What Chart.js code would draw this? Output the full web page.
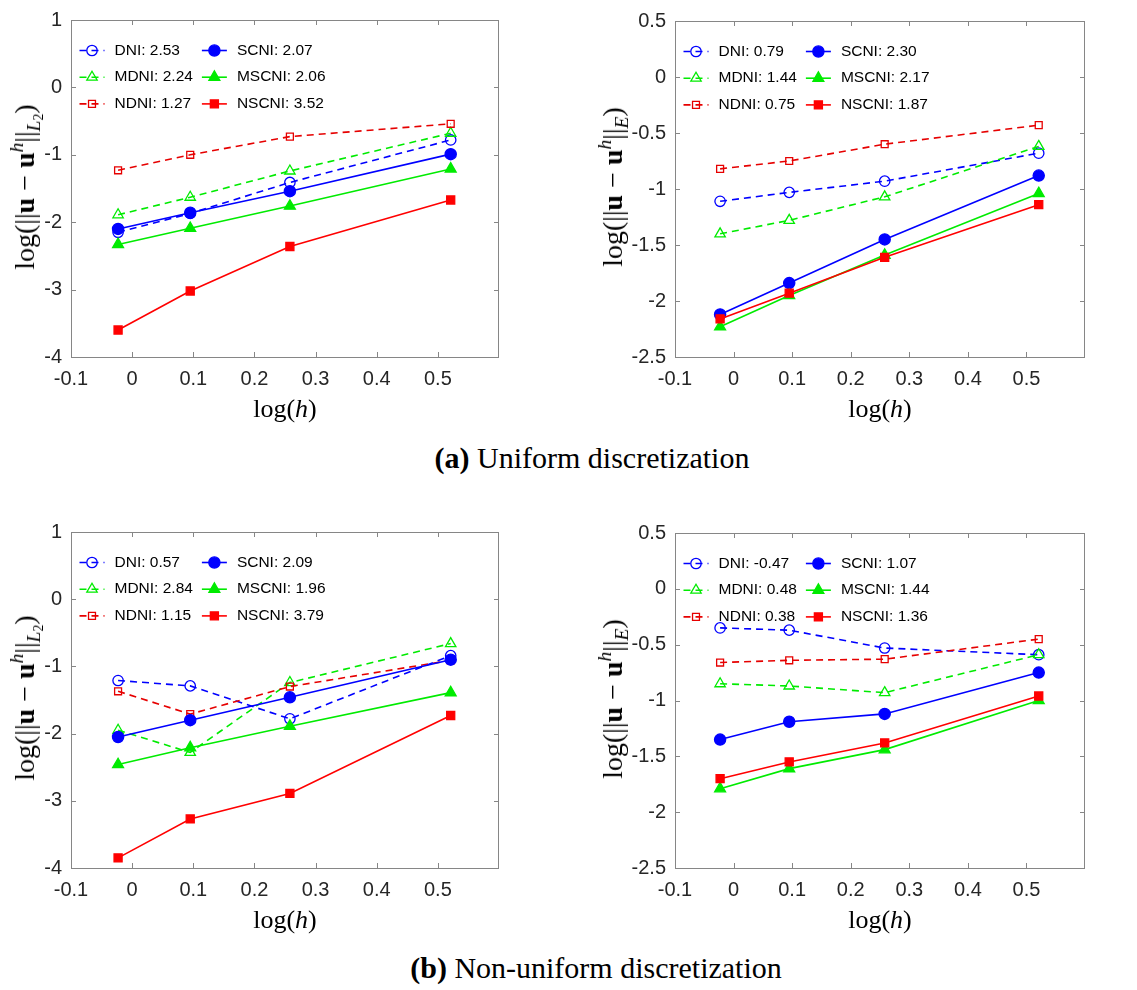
<!DOCTYPE html>
<html>
<head>
<meta charset="utf-8">
<script src="https://cdn.jsdelivr.net/npm/chart.js@4.4.1/dist/chart.umd.min.js"></script>
<style>
  body { margin: 0; background: #fff; width: 1137px; height: 990px; position: relative; overflow: hidden; }
  canvas { position: absolute; }
  .lab { position: absolute; font-family: "Liberation Serif", serif; font-size: 26px; line-height: 1; white-space: nowrap; color: #000; }
  .lab.ylab { font-size: 28px; }
  .lab sup, .lab sub { font-size: 0.7em; line-height: 0; }
  .lab sup { vertical-align: 0.55em; }
  .lab sub { vertical-align: -0.3em; }
  .lab sub sub { vertical-align: -0.2em; }
  .cap { position: absolute; font-family: "Liberation Serif", serif; font-size: 30px; line-height: 1; white-space: nowrap; color: #000; transform: translate(-50%, -50%); }
</style>
</head>
<body>
<script>
// log of mesh size, shared by every panel
const logH = [-0.023, 0.095, 0.258, 0.521];
const methods = ['DNI', 'MDNI', 'NDNI', 'SCNI', 'MSCNI', 'NSCNI'];

const xTicks = [-0.1, 0, 0.1, 0.2, 0.3, 0.4, 0.5];
const l2Ticks = [-4, -3, -2, -1, 0, 1];
const energyTicks = [-2.5, -2, -1.5, -1, -0.5, 0, 0.5];

// rows follow the order of `methods`
const uniformL2 = [
  [-2.15, -1.87, -1.41, -0.78],
  [-1.89, -1.63, -1.24, -0.68],
  [-1.23, -1.00, -0.73, -0.54],
  [-2.10, -1.86, -1.54, -0.99],
  [-2.33, -2.09, -1.76, -1.21],
  [-3.60, -3.02, -2.36, -1.67]
];
const uniformE = [
  [-1.11, -1.03, -0.93, -0.68],
  [-1.40, -1.28, -1.07, -0.62],
  [-0.82, -0.75, -0.60, -0.43],
  [-2.12, -1.84, -1.45, -0.88],
  [-2.23, -1.95, -1.59, -1.04],
  [-2.16, -1.93, -1.61, -1.14]
];
const nonUniformL2 = [
  [-1.21, -1.29, -1.78, -0.84],
  [-1.95, -2.28, -1.24, -0.66],
  [-1.37, -1.71, -1.30, -0.91],
  [-2.05, -1.80, -1.46, -0.90],
  [-2.46, -2.21, -1.89, -1.39],
  [-3.85, -3.27, -2.89, -1.73]
];
const nonUniformE = [
  [-0.35, -0.37, -0.53, -0.59],
  [-0.85, -0.87, -0.93, -0.59],
  [-0.66, -0.64, -0.63, -0.45],
  [-1.35, -1.19, -1.12, -0.75],
  [-1.79, -1.61, -1.44, -1.00],
  [-1.70, -1.55, -1.38, -0.96]
];

// convergence rates shown in the legends
const uniformL2Rates = [2.53, 2.24, 1.27, 2.07, 2.06, 3.52];
const uniformERates = [0.79, 1.44, 0.75, 2.30, 2.17, 1.87];
const nonUniformL2Rates = [0.57, 2.84, 1.15, 2.09, 1.96, 3.79];
const nonUniformERates = [-0.47, 0.48, 0.38, 1.07, 1.44, 1.36];

// line / marker style per method
const styles = [
  { color: 'rgb(0,0,255)', dash: [7, 5], point: 'circle',   r: 5.2, filled: false },
  { color: 'rgb(0,235,0)', dash: [7, 5], point: 'triangle', r: 6,   filled: false },
  { color: 'rgb(230,0,0)', dash: [7, 5], point: 'rect',     r: 4.9, filled: false },
  { color: 'rgb(0,0,255)', dash: [],     point: 'circle',   r: 5.6, filled: true },
  { color: 'rgb(0,235,0)', dash: [],     point: 'triangle', r: 6.3, filled: true },
  { color: 'rgb(255,0,0)', dash: [],     point: 'rect',     r: 5.7, filled: true }
];

const M = { left: 71, right: 24, top: 17, bottom: 42 };

// box frame with inward ticks on all four sides, plus the two-column legend
const matlabBox = {
  id: 'matlabBox',
  beforeDatasetsDraw(chart) {
    const { ctx, chartArea: a, scales: { x, y } } = chart;
    ctx.save();
    ctx.strokeStyle = '#868686';
    ctx.lineWidth = 1;
    ctx.strokeRect(a.left + 0.5, a.top + 0.5, a.right - a.left - 1, a.bottom - a.top);
    ctx.beginPath();
    x.ticks.forEach(t => {
      const px = Math.round(x.getPixelForValue(t.value)) + 0.5;
      ctx.moveTo(px, a.bottom); ctx.lineTo(px, a.bottom - 5);
      ctx.moveTo(px, a.top); ctx.lineTo(px, a.top + 5);
    });
    y.ticks.forEach(t => {
      const py = Math.round(y.getPixelForValue(t.value)) + 0.5;
      ctx.moveTo(a.left, py); ctx.lineTo(a.left + 5, py);
      ctx.moveTo(a.right, py); ctx.lineTo(a.right - 5, py);
    });
    ctx.stroke();
    ctx.restore();
  },
  afterDatasetsDraw(chart) {
    const { ctx, chartArea: a } = chart;
    const ds = chart.data.datasets;
    ctx.save();
    ctx.font = '15.5px "Liberation Sans"';
    ctx.textBaseline = 'middle';
    const x0 = a.left + 8.5, y0 = a.top + 30.5, dy = 26.7, len = 25, gap = 35;
    const w1 = Math.max(...[0, 1, 2].map(i => ctx.measureText(ds[i].label).width));
    const x1 = x0 + gap + w1 + 9;
    ds.forEach((d, i) => {
      const lx = i < 3 ? x0 : x1;
      const ly = y0 + (i % 3) * dy;
      ctx.strokeStyle = d.borderColor;
      ctx.lineWidth = d.borderWidth;
      ctx.setLineDash(d.borderDash);
      ctx.beginPath(); ctx.moveTo(lx, ly); ctx.lineTo(lx + len, ly); ctx.stroke();
      ctx.setLineDash([]);
      ctx.fillStyle = d.pointBackgroundColor;
      ctx.strokeStyle = d.pointBorderColor;
      ctx.lineWidth = d.pointBorderWidth;
      Chart.helpers.drawPoint(ctx, { pointStyle: d.pointStyle, radius: d.pointRadius, rotation: 0, borderWidth: d.pointBorderWidth }, lx + len / 2, ly);
      ctx.fillStyle = '#000';
      ctx.fillText(d.label, lx + gap, ly);
    });
    ctx.restore();
  }
};

function addLabel(html, cls, css) {
  const el = document.createElement('div');
  el.className = cls;
  el.innerHTML = html;
  el.style.cssText = css;
  document.body.appendChild(el);
}

function makePanel(p) {
  const w = p.box.r - p.box.l + M.left + M.right;
  const h = p.box.b - p.box.t + M.top + M.bottom;
  const cv = document.createElement('canvas');
  cv.width = w; cv.height = h;
  cv.style.cssText = `left:${p.box.l - M.left}px;top:${p.box.t - M.top}px;width:${w}px;height:${h}px`;
  document.body.appendChild(cv);

  const tickFont = { family: '"Liberation Sans", Arial, sans-serif', size: 20 };
  new Chart(cv, {
    type: 'scatter',
    data: {
      datasets: methods.map((name, i) => {
        const s = styles[i];
        return {
          label: name + ': ' + p.rates[i].toFixed(2),
          data: logH.map((x, j) => ({ x, y: p.values[i][j] })),
          showLine: true,
          borderColor: s.color,
          borderWidth: 1.6,
          borderDash: s.dash,
          pointStyle: s.point,
          pointRadius: s.r,
          pointBorderWidth: 1.3,
          pointBorderColor: s.color,
          pointBackgroundColor: s.filled ? s.color : 'rgba(0,0,0,0)',
          order: methods.length - i
        };
      })
    },
    options: {
      responsive: false,
      animation: false,
      devicePixelRatio: 1,
      layout: { padding: { left: 0, right: M.right, top: M.top, bottom: 0 } },
      plugins: { legend: { display: false }, tooltip: { enabled: false } },
      scales: {
        x: {
          type: 'linear', min: -0.1, max: 0.6,
          grid: { display: false, drawTicks: false },
          border: { display: false },
          afterBuildTicks: s => { s.ticks = xTicks.map(v => ({ value: v })); },
          afterFit: s => { s.height = M.bottom; },
          ticks: { color: '#262626', font: tickFont, padding: 10, maxRotation: 0, autoSkip: false, callback: v => String(v) }
        },
        y: {
          type: 'linear', min: p.yTicks[0], max: p.yTicks[p.yTicks.length - 1],
          grid: { display: false, drawTicks: false },
          border: { display: false },
          afterBuildTicks: s => { s.ticks = p.yTicks.map(v => ({ value: v })); },
          afterFit: s => { s.width = M.left; },
          ticks: { color: '#262626', font: tickFont, padding: 9, autoSkip: false, callback: v => String(v) }
        }
      }
    },
    plugins: [matlabBox]
  });

  const cx = (p.box.l + p.box.r) / 2, cy = (p.box.t + p.box.b) / 2;
  addLabel('log(<i>h</i>)', 'lab', `left:${cx}px;top:${p.box.b + 52}px;transform:translate(-50%,-50%)`);
  const norm = p.energy ? '<sub><i>E</i></sub>' : '<sub><i>L</i><sub>2</sub></sub>';
  addLabel('log(||<b>u</b> &minus; <b>u</b><sup><i>h</i></sup>||' + norm + ')', 'lab ylab',
    `left:${p.ylabX}px;top:${cy}px;transform:translate(-50%,-50%) rotate(-90deg)`);
}

const panels = [
  { box: { l: 71, t: 16, r: 499, b: 357 },  values: uniformL2,    rates: uniformL2Rates,    yTicks: l2Ticks,     energy: false, ylabX: 25 },
  { box: { l: 675, t: 17, r: 1085, b: 357 }, values: uniformE,     rates: uniformERates,     yTicks: energyTicks, energy: true,  ylabX: 613 },
  { box: { l: 71, t: 528, r: 499, b: 868 },  values: nonUniformL2, rates: nonUniformL2Rates, yTicks: l2Ticks,     energy: false, ylabX: 25 },
  { box: { l: 675, t: 529, r: 1085, b: 868 }, values: nonUniformE,  rates: nonUniformERates,  yTicks: energyTicks, energy: true,  ylabX: 613 }
];
panels.forEach(makePanel);

addLabel('<b>(a)</b> Uniform discretization', 'cap', 'left:592px;top:458px');
addLabel('<b>(b)</b> Non-uniform discretization', 'cap', 'left:596px;top:968px');
</script>
</body>
</html>
